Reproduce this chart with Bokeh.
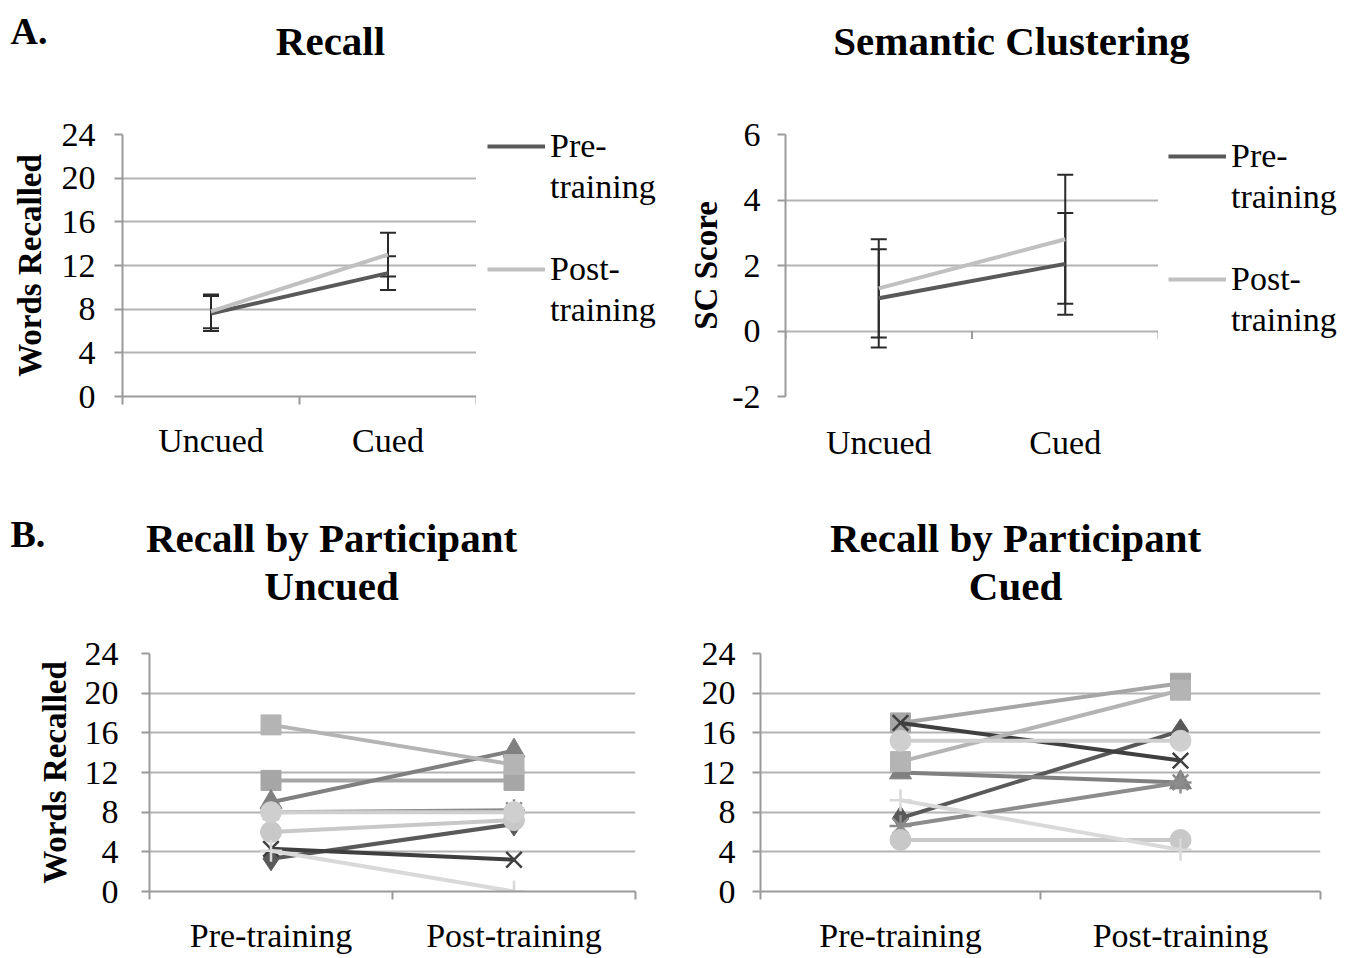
from bokeh.plotting import figure
from bokeh.models import (Range1d, FixedTicker, Whisker, TeeHead, ColumnDataSource,
                          Legend, LegendItem, Label, Spacer)
from bokeh.layouts import column, row
from bokeh.embed import file_html
from bokeh.resources import INLINE

FONT = "Liberation Serif"

# ---------------- data ----------------
conditions = ["Uncued", "Cued"]
recall_pre = [7.6, 11.3]
recall_pre_err = [1.6, 1.55]
recall_post = [7.8, 13.0]
recall_post_err = [1.55, 2.0]
recall_ticks = [0, 4, 8, 12, 16, 20, 24]

sc_pre = [1.0, 2.05]
sc_pre_err = [1.5, 1.55]
sc_post = [1.3, 2.8]
sc_post_err = [1.5, 1.97]
sc_ticks = [-2, 0, 2, 4, 6]

series_names = ["Pre-\ntraining", "Post-\ntraining"]

phases = ["Pre-training", "Post-training"]
participant_markers = ["diamond", "square", "triangle", "x", "asterisk",
                       "circle", "cross", "square", "circle"]
participant_colors = ["#595959", "#a6a6a6", "#808080", "#3f3f3f", "#8c8c8c",
                      "#c8c8c8", "#d9d9d9", "#b4b4b4", "#cfcfcf"]
uncued_pre = [3.3, 11.2, 9.0, 4.3, 8.0, 6.0, 4.1, 16.8, 8.0]
uncued_post = [6.8, 11.2, 14.2, 3.2, 8.2, 7.2, 0.0, 12.8, 8.0]
cued_pre = [7.4, 17.0, 12.0, 17.0, 6.6, 5.2, 9.2, 13.1, 15.2]
cued_post = [16.2, 21.0, 11.0, 13.2, 11.0, 5.2, 4.2, 20.3, 15.2]

PRE_COLOR = "#595959"
POST_COLOR = "#c0c0c0"
GRID = "#b3b3b3"
AXIS = "#9a9a9a"
TICK_PX = "34px"
MARKER_SIZES = {"diamond": 24, "square": 20, "triangle": 22, "circle": 21,
                "x": 22, "asterisk": 22, "cross": 22}


def base_fig(W, H, geom, yr, yticks, cats, ylabel=None,
             ystand=18, ylab_stand=10, xstand=24, xaxis_line=True):
    fl, fr, ft, fb = geom
    n = len(cats)
    p = figure(width=W, height=H, x_range=Range1d(-0.5, n - 0.5),
               y_range=Range1d(yr[0], yr[1]), output_backend="svg",
               toolbar_location=None, min_border_left=fl, min_border_right=W - fr,
               min_border_top=ft, min_border_bottom=H - fb)
    p.outline_line_color = None
    p.background_fill_color = "white"
    p.border_fill_color = "white"
    p.xgrid.visible = False
    p.ygrid.ticker = FixedTicker(ticks=yticks)
    p.ygrid.grid_line_color = GRID
    p.ygrid.grid_line_width = 2
    ya = p.yaxis[0]
    ya.ticker = FixedTicker(ticks=yticks)
    ya.major_label_overrides = {t: str(t) for t in yticks}
    ya.axis_line_color = AXIS
    ya.axis_line_width = 2
    ya.major_tick_line_color = AXIS
    ya.major_tick_line_width = 2
    ya.major_tick_out = 8
    ya.major_tick_in = 0
    ya.minor_tick_line_color = None
    ya.minor_tick_out = 0
    ya.major_label_text_font = FONT
    ya.major_label_text_font_size = TICK_PX
    ya.major_label_text_color = "black"
    ya.major_label_standoff = ystand
    if ylabel:
        ya.axis_label = ylabel
        ya.axis_label_text_font = FONT
        ya.axis_label_text_font_style = "bold"
        ya.axis_label_text_font_size = "33px"
        ya.axis_label_text_color = "black"
        ya.axis_label_standoff = ylab_stand
    xa = p.xaxis[0]
    xa.ticker = FixedTicker(ticks=list(range(n)),
                            minor_ticks=[i - 0.5 for i in range(n + 1)])
    xa.major_label_overrides = {i: c for i, c in enumerate(cats)}
    xa.major_tick_line_color = None
    xa.major_tick_out = 0
    xa.major_tick_in = 0
    xa.minor_tick_out = 8
    xa.minor_tick_in = 0
    xa.major_label_text_font = FONT
    xa.major_label_text_font_size = TICK_PX
    xa.major_label_text_color = "black"
    xa.major_label_standoff = xstand
    if xaxis_line:
        xa.axis_line_color = AXIS
        xa.axis_line_width = 2
        xa.minor_tick_line_color = AXIS
        xa.minor_tick_line_width = 2
    else:
        xa.axis_line_color = None
        xa.minor_tick_line_color = None
    return p


def blank_fig(W, H, xr=None, yr=None):
    h = figure(width=W, height=H,
               x_range=xr if xr is not None else Range1d(0, W),
               y_range=yr if yr is not None else Range1d(H, 0),
               output_backend="svg", toolbar_location=None, min_border=0,
               x_axis_location=None, y_axis_location=None)
    h.xgrid.visible = False
    h.ygrid.visible = False
    h.outline_line_color = None
    h.background_fill_color = "white"
    h.border_fill_color = "white"
    return h


def head_text(h, x, y, text, size, align="center"):
    h.add_layout(Label(x=x, y=y, text=text, text_font=FONT, text_font_size=size,
                       text_font_style="bold", text_align=align,
                       text_baseline="middle", text_color="black"))


def legend_block(W, H, top, margin, pre, post):
    # legend figure: its ranges keep the series lines out of view, so only
    # the legend swatches are visible
    lf = blank_fig(W, H - (top - margin), xr=Range1d(10, 11), yr=Range1d(1000, 1001))
    xs = list(range(len(conditions)))
    r_pre = lf.line(xs, pre, line_color=PRE_COLOR, line_width=4)
    r_post = lf.line(xs, post, line_color=POST_COLOR, line_width=4)
    hidden = lf.line(x=[], y=[], line_alpha=0)
    pre_a, pre_b = series_names[0].split("\n")
    post_a, post_b = series_names[1].split("\n")
    items = [LegendItem(label=pre_a, renderers=[r_pre]),
             LegendItem(label=pre_b, renderers=[hidden]),
             LegendItem(label=" ", renderers=[hidden]),
             LegendItem(label=post_a, renderers=[r_post]),
             LegendItem(label=post_b, renderers=[hidden])]
    leg = Legend(items=items, location="top_left", orientation="vertical",
                 label_text_font=FONT, label_text_font_size=TICK_PX,
                 label_text_color="black", label_standoff=5,
                 glyph_width=58, glyph_height=20, label_height=41,
                 spacing=0, padding=0, margin=margin, border_line_color=None,
                 background_fill_alpha=0)
    lf.add_layout(leg)
    return column(Spacer(width=W, height=top - margin), lf, spacing=0)


def summary_panel(W, H, geom, yr, yticks, pre, pre_err, post, post_err, ylabel,
                  ystand, ylab_stand, xstand, zero_axis=False):
    fl, fr, ft, fb = geom
    p = base_fig(W, H, geom, yr, yticks, conditions, ylabel,
                 ystand, ylab_stand, xstand, xaxis_line=not zero_axis)
    xs = list(range(len(conditions)))
    if zero_axis:
        bounds = [i - 0.5 for i in range(len(conditions) + 1)]
        tick_len = 8 / ((fb - ft) / (yr[1] - yr[0]))
        p.segment(x0=bounds, y0=[0] * len(bounds), x1=bounds,
                  y1=[-tick_len] * len(bounds), line_color=AXIS, line_width=2)
    p.line(xs, pre, line_color=PRE_COLOR, line_width=4)
    p.line(xs, post, line_color=POST_COLOR, line_width=4)
    for vals, errs in ((pre, pre_err), (post, post_err)):
        src = ColumnDataSource(dict(x=xs,
                                    lo=[v - e for v, e in zip(vals, errs)],
                                    hi=[v + e for v, e in zip(vals, errs)]))
        p.add_layout(Whisker(source=src, base="x", lower="lo", upper="hi",
                             line_color="#2a2a2a", line_width=2,
                             upper_head=TeeHead(size=16, line_color="#2a2a2a", line_width=2),
                             lower_head=TeeHead(size=16, line_color="#2a2a2a", line_width=2)))
    return p


def participant_panel(W, H, geom, pre_vals, post_vals, ylabel,
                      ystand, ylab_stand, xstand):
    p = base_fig(W, H, geom, (0, 24), recall_ticks, phases, ylabel,
                 ystand, ylab_stand, xstand)
    xs = list(range(len(phases)))
    for i in range(len(pre_vals)):
        ys = [pre_vals[i], post_vals[i]]
        c = participant_colors[i]
        m = participant_markers[i]
        p.line(xs, ys, line_color=c, line_width=4)
        if m in ("x", "asterisk", "cross"):
            p.scatter(xs, ys, marker=m, size=MARKER_SIZES[m], line_color=c,
                      line_width=2.5)
        else:
            p.scatter(xs, ys, marker=m, size=MARKER_SIZES[m],
                      fill_color=c, line_color=c)
    return p


# ---------------- layout ----------------
FULL_W = 1352

head1 = blank_fig(FULL_W, 100)
head_text(head1, 10, 30, "A.", "38px", align="left")
head_text(head1, 330, 40, "Recall", "41px")
head_text(head1, 1011, 40, "Semantic Clustering", "41px")

TOP_H = 386
p_tl = summary_panel(476, TOP_H, (122, 476, 34, 298), (0, 24), recall_ticks,
                     recall_pre, recall_pre_err, recall_post, recall_post_err,
                     "Words Recalled", ystand=19, ylab_stand=11, xstand=17)
leg_tl = legend_block(204, TOP_H, 25, 11, recall_pre, recall_post)
p_tr = summary_panel(478, TOP_H, (105, 478, 34, 296), (-2, 6), sc_ticks,
                     sc_pre, sc_pre_err, sc_post, sc_post_err, "SC Score",
                     ystand=17, ylab_stand=5, xstand=19, zero_axis=True)
leg_tr = legend_block(194, TOP_H, 35, 10, sc_pre, sc_post)

head2 = blank_fig(FULL_W, 129)
head_text(head2, 10, 47, "B.", "38px", align="left")
head_text(head2, 331, 51, "Recall by Participant", "41px")
head_text(head2, 331, 99, "Uncued", "41px")
head_text(head2, 1015, 51, "Recall by Participant", "41px")
head_text(head2, 1015, 99, "Cued", "41px")

BOT_H = 341
p_bl = participant_panel(680, BOT_H, (149, 635, 38, 278), uncued_pre,
                         uncued_post, "Words Recalled",
                         ystand=23, ylab_stand=9, xstand=17)
p_br = participant_panel(672, BOT_H, (80, 640, 38, 278), cued_pre, cued_post,
                         None, ystand=17, ylab_stand=10, xstand=17)

layout = column(head1, row(p_tl, leg_tl, p_tr, leg_tr, spacing=0), head2,
                row(p_bl, p_br, spacing=0), spacing=0)
open("out.html", "w").write(file_html(layout, INLINE))
